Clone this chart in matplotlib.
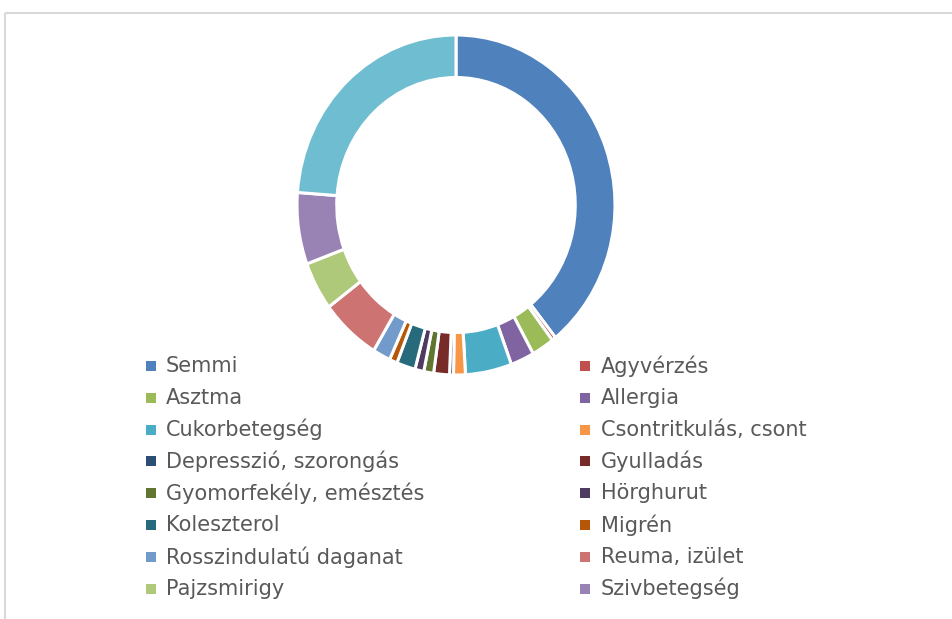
import matplotlib
matplotlib.use("Agg")
import matplotlib.pyplot as plt

# ---- data (percent shares) ----
categories = [
    "Semmi", "Agyvérzés", "Asztma", "Allergia", "Cukorbetegség",
    "Csontritkulás, csont", "Depresszió, szorongás", "Gyulladás",
    "Gyomorfekély, emésztés", "Hörghurut", "Koleszterol", "Migrén",
    "Rosszindulatú daganat", "Reuma, izület", "Pajzsmirigy", "Szivbetegség",
    "Vérnyomás",
]
values = [39.2, 0.4, 2.3, 2.4, 4.7, 1.2, 0.4, 1.6, 1.0, 0.9, 1.9, 0.8,
          1.8, 6.1, 4.6, 6.8, 23.8]
colors = ["#4F81BD", "#C0504D", "#9BBB59", "#8064A2", "#4BACC6", "#F79646",
          "#2C4D75", "#772C2A", "#5F7530", "#4D3B62", "#276A7C", "#B65708",
          "#729ACA", "#CD7371", "#AFC97A", "#9983B5", "#6FBDD1"]
legend_count = 16  # entries visible in the legend

W, H = 952, 619
fig = plt.figure(figsize=(W / 100, H / 100), dpi=100)
fig.patch.set_facecolor("white")

# overlay axes in pixel coordinates (frame + legend)
ov = fig.add_axes([0, 0, 1, 1])
ov.set_xlim(0, W)
ov.set_ylim(H, 0)
ov.axis("off")
ov.patch.set_alpha(0)
ov.plot([5, W + 5], [13, 13], color="#D9D9D9", lw=1.5, solid_capstyle="butt")
ov.plot([5, 5], [13, H + 5], color="#D9D9D9", lw=1.5, solid_capstyle="butt")

# donut
px_l, px_r, px_t, px_b = 297, 615, 35, 375
ax = fig.add_axes([px_l / W, (H - px_b) / H, (px_r - px_l) / W, (px_b - px_t) / H])
ax.pie(values, colors=colors, startangle=90, counterclock=False,
       wedgeprops=dict(width=0.25, edgecolor="white", linewidth=2.2))
ax.set_aspect("auto")
ax.set_xlim(-1, 1)
ax.set_ylim(-1, 1)
ax.axis("off")

# legend (two columns, row-wise order)
row0, dy = 366, 31.8
for i in range(legend_count):
    r, c = divmod(i, 2)
    y = row0 + r * dy
    mx = 151 if c == 0 else 585
    tx = 166 if c == 0 else 601
    ov.plot([mx], [y], marker="s", markersize=6.6, color=colors[i],
            markeredgewidth=0, linestyle="none")
    ov.text(tx, y, categories[i], fontsize=15, color="#595959",
            va="center", ha="left", family="DejaVu Sans")

fig.savefig("out.png", dpi=100)
